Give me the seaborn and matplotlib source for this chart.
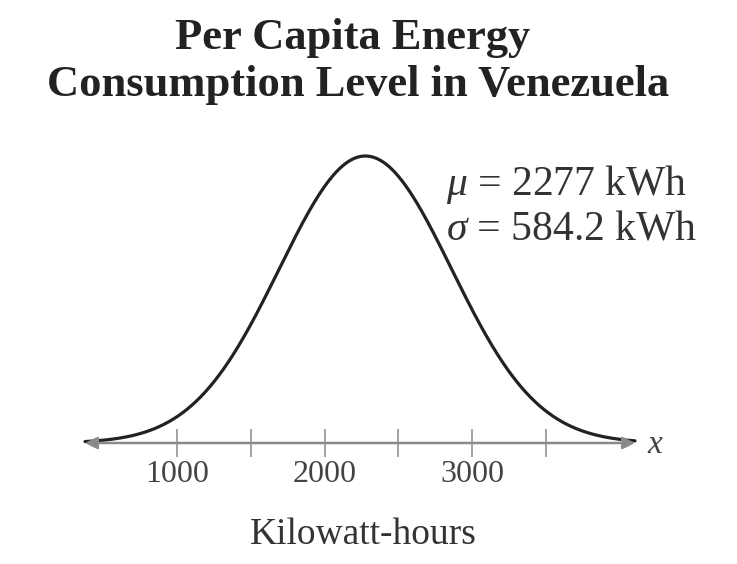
import numpy as np
import pandas as pd
import matplotlib
matplotlib.use("Agg")
import matplotlib.pyplot as plt
import seaborn as sns

# Chart data
title_lines = ["Per Capita Energy", "Consumption Level in Venezuela"]
mean_kwh = 2277
sd_kwh = 584.2
tick_values = [1000, 1500, 2000, 2500, 3000, 3500]
tick_labels = ["1000", "", "2000", "", "3000", ""]
x_range = [376, 4105]
axis_label = "Kilowatt-hours"

sns.set_theme(style="white")
plt.rcParams["font.family"] = ["Liberation Serif", "DejaVu Serif"]
plt.rcParams["mathtext.fontset"] = "custom"
plt.rcParams["mathtext.rm"] = "Liberation Serif"
plt.rcParams["mathtext.it"] = "Liberation Serif:italic"

xs = np.linspace(x_range[0], x_range[1], 600)
density = np.exp(-0.5 * ((xs - mean_kwh) / sd_kwh) ** 2) / (sd_kwh * np.sqrt(2 * np.pi))
df = pd.DataFrame({"kwh": xs, "density": density})
peak = 1 / (sd_kwh * np.sqrt(2 * np.pi))

W, H = 737, 564
fig = plt.figure(figsize=(W / 100, H / 100), dpi=100)
ax = fig.add_axes([85 / W, 1 - 443 / H, (635 - 85) / W, (443 - 156) / H])

sns.lineplot(data=df, x="kwh", y="density", ax=ax, color="#222222", linewidth=2.3)
for l in ax.lines:
    l.set_clip_on(False)
    l.set_solid_capstyle("round")

ax.set_xlim(x_range)
ax.set_ylim(0, peak)
for s in ax.spines.values():
    s.set_visible(False)
ax.set_yticks([])
ax.set_ylabel("")
ax.set_xlabel("")
ax.set_xticks(tick_values)
ax.set_xticklabels(tick_labels)
ax.tick_params(axis="x", direction="inout", length=20, width=1.1, color="#8a8a8a",
               labelsize=23, labelcolor="#444444", pad=2, bottom=True)

# axis line with arrows on both ends
ax.annotate("", xy=(x_range[1], 0), xytext=(x_range[0], 0),
            xycoords="data", textcoords="data",
            arrowprops=dict(arrowstyle="<|-|>", color="#8a8a8a", lw=1.8,
                            mutation_scale=18, shrinkA=0, shrinkB=0),
            annotation_clip=False)

fig.text(655 / W, 1 - 445 / H, "x", fontsize=24, style="italic", color="#444444",
         ha="center", va="center")

fig.text(363 / W, 1 - 535 / H, axis_label, fontsize=27, color="#333333",
         ha="center", va="center")

fig.text(446 / W, 1 - 185 / H, r"$\mu$ = " + f"{mean_kwh} kWh", fontsize=30,
         color="#333333", ha="left", va="center")
fig.text(446 / W, 1 - 229 / H, r"$\sigma$ = " + f"{sd_kwh} kWh", fontsize=30,
         color="#333333", ha="left", va="center")

fig.text(353 / W, 1 - 38 / H, title_lines[0], fontsize=32, fontweight="bold",
         color="#222222", ha="center", va="center")
fig.text(358 / W, 1 - 85 / H, title_lines[1], fontsize=32, fontweight="bold",
         color="#222222", ha="center", va="center")

fig.savefig("out.png", dpi=100, facecolor="white")
